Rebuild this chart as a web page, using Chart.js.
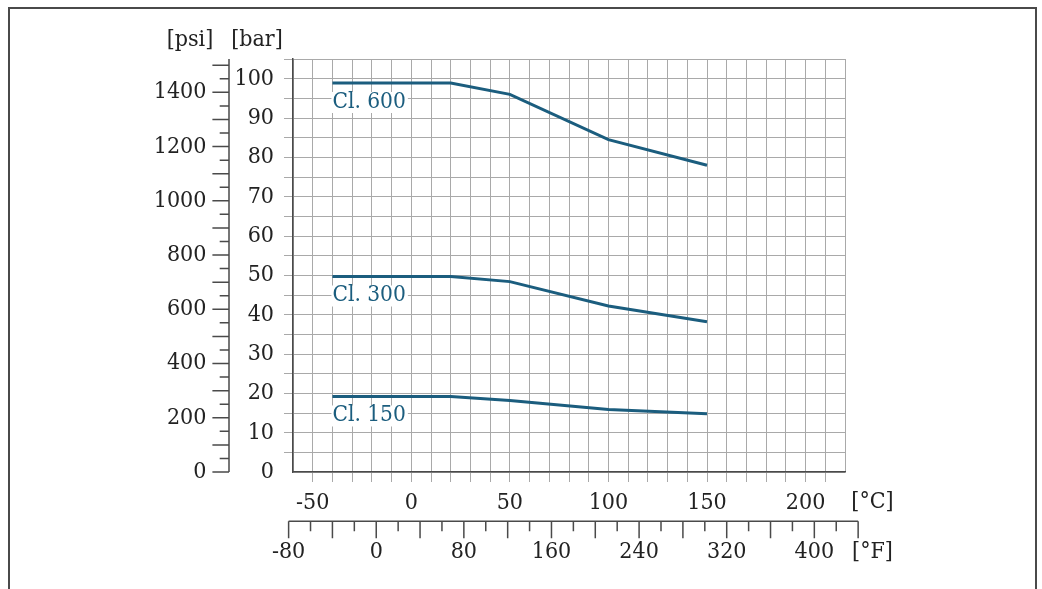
<!DOCTYPE html>
<html>
<head>
<meta charset="utf-8">
<script src="https://cdn.jsdelivr.net/npm/chart.js@4/dist/chart.umd.min.js"></script>
<style>
  html, body { margin: 0; padding: 0; background: #fff; overflow: hidden; }
  #wrap { position: absolute; left: 0; top: 0; width: 1042px; height: 589px; overflow: hidden; }
  #frame { position: absolute; left: 8px; top: 7px; width: 1029px; height: 700px; border: 2px solid #4a4a4a; box-sizing: border-box; }
  #chart { position: absolute; left: 0; top: 0; }
</style>
</head>
<body>
<div id="wrap">
  <div id="frame"></div>
  <canvas id="chart" width="1042" height="589"></canvas>
</div>
<script>
    // temperatures in °C, pressures in bar
    const temps = [-40, 20, 50, 100, 150];
    const cl600 = [98.9, 98.9, 96.0, 84.5, 78.0];
    const cl300 = [49.7, 49.7, 48.4, 42.2, 38.2];
    const cl150 = [19.2, 19.2, 18.2, 15.9, 14.8];
    const classNames = ['Cl. 600', 'Cl. 300', 'Cl. 150'];

    // secondary axes
    const psiLabels = [0, 200, 400, 600, 800, 1000, 1200, 1400];
    const fahrenheitLabels = [-80, 0, 80, 160, 240, 320, 400];

    const PSI_TO_BAR = 0.0689476;
    const lineColor = '#1b5d7e';
    const textColor = '#222';
    const axisColor = '#4a4a4a';
    const gridColor = '#a9a9a9';
    const fontFamily = '"DejaVu Serif Condensed", "DejaVu Serif", serif';
    const fontSize = 23;

    const toPoints = values => values.map((v, i) => ({ x: temps[i], y: v }));

    //extra axes (psi, °F), unit labels and class labels
    const extraAxes = {
        id: 'extraAxes',
        afterDatasetsDraw(chart) {
            const { ctx, chartArea: a, scales: { x, y } } = chart;
            ctx.save();

            // class labels with white box
            ctx.font = '22.5px ' + fontFamily;
            ctx.textBaseline = 'middle';
            ctx.textAlign = 'left';
            chart.data.datasets.forEach(ds => {
                const px = x.getPixelForValue(ds.data[0].x);
                const py = y.getPixelForValue(ds.data[0].y) + 19;
                const w = ctx.measureText(ds.label).width;
                ctx.fillStyle = '#fff';
                ctx.fillRect(px - 1, py - 10, w + 3, 21);
                ctx.fillStyle = lineColor;
                ctx.fillText(ds.label, px, py);
            });

            ctx.strokeStyle = axisColor;
            ctx.lineWidth = 1.5;
            ctx.fillStyle = textColor;
            ctx.font = fontSize + 'px ' + fontFamily;

            // psi axis
            const psiX = a.left - 64;
            ctx.beginPath();
            ctx.moveTo(psiX, a.top);
            ctx.lineTo(psiX, a.bottom);
            for (let psi = 0; psi <= 1500; psi += 50) {
                const py = y.getPixelForValue(psi * PSI_TO_BAR);
                const len = psi % 100 === 0 ? 16.6 : 9.3;
                ctx.moveTo(psiX, py);
                ctx.lineTo(psiX - len, py);
            }
            ctx.stroke();
            ctx.textAlign = 'right';
            psiLabels.forEach(p => {
                ctx.fillText(String(p), psiX - 22.6, y.getPixelForValue(p * PSI_TO_BAR));
            });

            // °F axis
            const fY = a.bottom + 49.3;
            const fx = f => x.getPixelForValue((f - 32) * 5 / 9);
            ctx.beginPath();
            ctx.moveTo(fx(-80), fY);
            ctx.lineTo(fx(440), fY);
            for (let f = -80; f <= 440; f += 20) {
                const len = f % 40 === 0 ? 17 : 10;
                ctx.moveTo(fx(f), fY);
                ctx.lineTo(fx(f), fY + len);
            }
            ctx.stroke();
            ctx.textAlign = 'center';
            fahrenheitLabels.forEach(f => {
                ctx.fillText(String(f), fx(f), fY + 30.7);
            });

            // unit labels
            ctx.fillText('[psi]', a.left - 103, a.top - 19);
            ctx.fillText('[bar]', a.left - 36, a.top - 19);
            ctx.fillText('[°C]', a.right + 27.5, a.bottom + 30);
            ctx.fillText('[°F]', a.right + 27.5, a.bottom + 80);

            ctx.restore();
        }
    };

    const makeDataset = (label, values) => ({
        label: label,
        data: toPoints(values),
        borderColor: lineColor,
        borderWidth: 3,
        pointRadius: 0,
        tension: 0,
        fill: false
    });

    new Chart(document.getElementById('chart'), {
        type: 'line',
        data: {
            datasets: [
                makeDataset(classNames[0], cl600),
                makeDataset(classNames[1], cl300),
                makeDataset(classNames[2], cl150)
            ]
        },
        options: {
            responsive: false,
            animation: false,
            layout: {
                padding: { left: 229, top: 59, right: 197, bottom: 77 }
            },
            plugins: {
                legend: { display: false },
                tooltip: { enabled: false }
            },
            scales: {
                x: {
                    type: 'linear',
                    min: -60,
                    max: 220,
                    afterFit: scale => { scale.height = 40; },
                    grid: {
                        color: gridColor,
                        lineWidth: 1,
                        tickLength: 10,
                        tickColor: c => (c.tick && (c.tick.value === -60 || c.tick.value === 220)) ? 'rgba(0,0,0,0)' : gridColor
                    },
                    border: { color: axisColor, width: 1.5 },
                    ticks: {
                        stepSize: 10,
                        autoSkip: false,
                        maxRotation: 0,
                        padding: 7,
                        color: textColor,
                        font: { family: fontFamily, size: fontSize },
                        callback: v => v % 50 === 0 ? String(v) : ''
                    }
                },
                y: {
                    type: 'linear',
                    min: 0,
                    max: 105,
                    afterFit: scale => { scale.width = 64; },
                    grid: {
                        color: gridColor,
                        lineWidth: 1,
                        tickLength: 9,
                        tickColor: c => (c.tick && c.tick.value === 0) ? 'rgba(0,0,0,0)' : gridColor
                    },
                    border: { color: axisColor, width: 1.5 },
                    ticks: {
                        stepSize: 5,
                        autoSkip: false,
                        padding: 10,
                        color: textColor,
                        font: { family: fontFamily, size: fontSize },
                        callback: v => v % 10 === 0 ? String(v) : ''
                    }
                }
            }
        },
        plugins: [extraAxes]
    });
</script>
</body>
</html>
